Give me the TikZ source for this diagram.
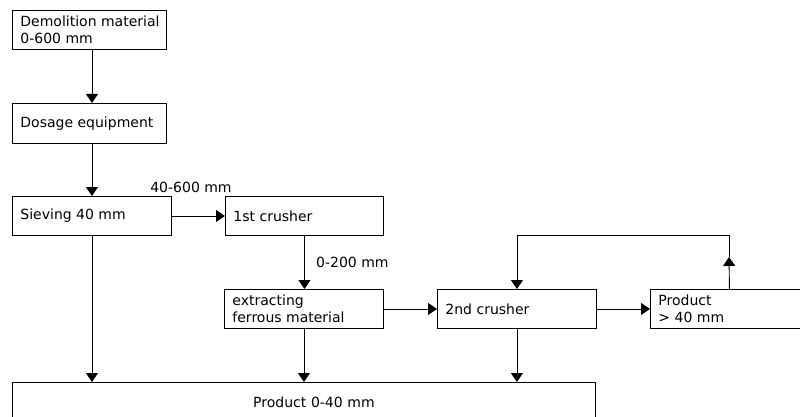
\documentclass[tikz,border=0pt]{standalone}
\usepackage{fontspec}
\setmainfont{DejaVu Sans}
\usetikzlibrary{arrows.meta}
\begin{document}
\begin{tikzpicture}[x=1pt,y=-1pt,
  box/.style={draw=black, line width=0.9pt, anchor=north west, inner xsep=8pt, inner ysep=0pt,
    align=flush left, font=\fontsize{14}{16.5}\selectfont},
  lbl/.style={font=\fontsize{14}{16.5}\selectfont, inner sep=0pt},
  arr/.style={draw=black, line width=0.9pt, -{Triangle[length=9pt,width=12pt]}},
  ln/.style={draw=black, line width=0.9pt}]
\useasboundingbox (0,0) rectangle (800,417);
\node[box, inner xsep=6pt, minimum width=154pt, minimum height=39pt, text width=142pt] (b1) at (12,10) {\hspace*{2pt}Demolition material\\\hspace*{2pt}0-600 mm};
\node[box, minimum width=154pt, minimum height=40pt, text width=138pt] (b2) at (12,103) {Dosage equipment};
\node[box, minimum width=159pt, minimum height=39pt, text width=143pt] (b3) at (12,196) {Sieving 40 mm};
\node[box, minimum width=158pt, minimum height=39pt, text width=142pt] (b4) at (225,196) {1st crusher};
\node[box, minimum width=159pt, minimum height=39pt, text width=143pt] (b5) at (224,289) {extracting\\ferrous material};
\node[box, minimum width=159pt, minimum height=39pt, text width=143pt] (b6) at (437,289) {2nd crusher};
\node[box, minimum width=158pt, minimum height=39pt, text width=142pt] (b7) at (650,289) {Product\\> 40 mm};
\node[box, minimum width=583pt, minimum height=40pt, text width=567pt, align=center] (b8) at (12,382) {\hspace*{20pt}Product 0-40 mm};
\node[lbl] (l1) at (191,187) {40-600 mm};
\node[lbl, anchor=west] (l2) at (316,262) {0-200 mm};
\coordinate (fbtip) at (729,257);
\coordinate (fbtop) at (729,235);
\draw[arr] (b1.south -| b3.north) -- (b2.north -| b3.north);
\draw[arr] (b2.south -| b3.north) -- (b3.north);
\draw[arr] (b3.east) -- (b4.west);
\draw[arr] (b4.south) -- (b4.south |- b5.north);
\draw[arr] (b5.east) -- (b6.west);
\draw[arr] (b6.east) -- (b7.west);
\draw[arr] (b7.north) -- (fbtip);
\draw[arr] (fbtip) -- (fbtop) -| (b6.north);
\draw[arr] (b3.south) -- (b3.south |- b8.north);
\draw[arr] (b5.south) -- (b5.south |- b8.north);
\draw[arr] (b6.south) -- (b6.south |- b8.north);
\end{tikzpicture}
\end{document}
